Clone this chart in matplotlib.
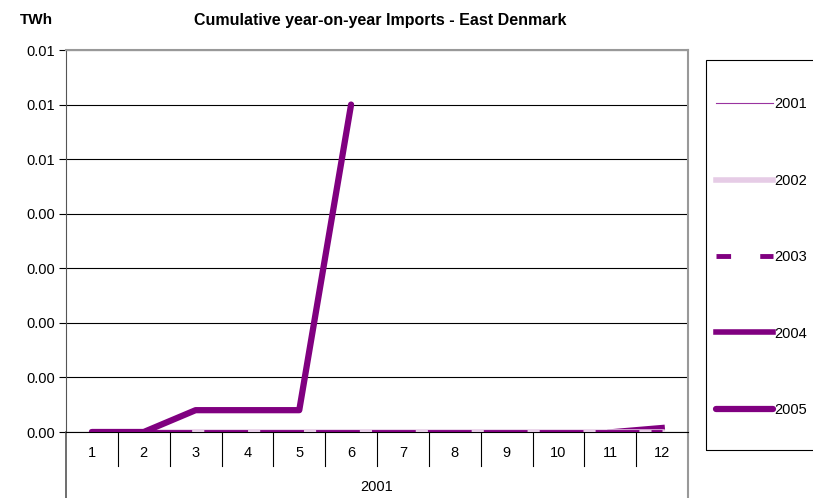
import matplotlib
matplotlib.use("Agg")
import matplotlib.pyplot as plt
import matplotlib.transforms as mtransforms
from matplotlib.lines import Line2D
from matplotlib.patches import Rectangle
import numpy as np

plt.rcParams['font.family'] = ['Liberation Sans', 'DejaVu Sans']

months = list(range(1, 13))
year_label = "2001"
y_ticks = [0.000, 0.001, 0.002, 0.003, 0.004, 0.005, 0.006, 0.007]

nan = np.nan
imp_2001 = [0, 0, 0, 0, 0, 0, 0, 0, 0, 0, 0, 0]
imp_2002 = [0, 0, 0, 0, 0, 0, 0, 0, 0, 0, 0, 0]
imp_2003 = [0, 0, 0, 0, 0, 0, 0, 0, 0, 0, 0, 0]
imp_2004 = [nan, nan, nan, nan, nan, nan, nan, nan, nan, nan, 0, 0.00008]
imp_2005 = [0, 0, 0.0004, 0.0004, 0.0004, 0.006, nan, nan, nan, nan, nan, nan]

purple = '#800080'
pink = '#E6CCE6'
fs = 10.5

fig = plt.figure(figsize=(8.13, 4.98), dpi=100)
ax = fig.add_axes([66/813, 1-432/498, (688-66)/813, (432-50)/498])

l1, = ax.plot(months, imp_2001, color='#9933A0', lw=0.8, zorder=3)
l4, = ax.plot(months, imp_2004, color=purple, lw=4, zorder=3.5)
l2, = ax.plot(months, imp_2002, color=pink, lw=4, zorder=4)
l3, = ax.plot(months, imp_2003, color=purple, lw=3.5, dashes=(9, 2.5), zorder=5)
l5, = ax.plot(months, imp_2005, color=purple, lw=4.5, solid_capstyle='round',
              solid_joinstyle='round', zorder=6)

ax.set_xlim(0.5, 12.5)
ax.set_ylim(0, 0.007)
ax.set_yticks(y_ticks)
ax.set_yticklabels(['{:.2f}'.format(v + 1e-12) for v in y_ticks])
ax.yaxis.grid(True, color='black', lw=0.8)
ax.set_axisbelow(True)
ax.set_xticks(months)
ax.set_xticklabels([str(m) for m in months])
ax.tick_params(axis='x', length=0, pad=10, labelsize=fs)
ax.tick_params(axis='y', length=5, width=0.8, labelsize=fs, pad=3)

for side in ['top', 'right']:
    ax.spines[side].set_color('#999999')
    ax.spines[side].set_linewidth(1.5)
ax.spines['left'].set_color('#555555')
ax.spines['bottom'].set_color('black')
ax.spines['bottom'].set_linewidth(0.8)

# category boxes below the axis
trans = mtransforms.blended_transform_factory(ax.transData, ax.transAxes)
box_h = 34 / 382
for b in np.arange(1.5, 12.5, 1):
    ax.add_line(Line2D([b, b], [0, -box_h], transform=trans, color='black',
                       lw=0.8, clip_on=False))
full_h = 66 / 382
ax.add_line(Line2D([0.5, 0.5], [0, -full_h], transform=trans, color='#555555',
                   lw=1.2, clip_on=False))
ax.add_line(Line2D([12.5, 12.5], [0, -full_h], transform=trans, color='#999999',
                   lw=1.5, clip_on=False))
ax.text(6.5, -55/382, year_label, transform=trans, ha='center', va='center',
        fontsize=fs)

fig.text(380/813, 1-20/498, 'Cumulative year-on-year Imports - East Denmark',
         ha='center', va='center', fontsize=11.5, fontweight='bold')
fig.text(36/813, 1-20/498, 'TWh', ha='center', va='center', fontsize=11,
         fontweight='bold')

# legend
fig.patches.append(Rectangle((706/813, 1-450/498), 120/813, 390/498,
                             transform=fig.transFigure, fill=False,
                             edgecolor='black', lw=0.8))
leg = fig.legend([l1, l2, l3, l4, l5], ['2001', '2002', '2003', '2004', '2005'],
                 loc='upper left', bbox_to_anchor=(709/813, 1-90/498),
                 frameon=False, handlelength=3.9, handletextpad=0.1,
                 labelspacing=4.28, fontsize=fs, borderpad=0)
leg.get_lines()[2].set_dashes((3, 6))

fig.savefig('out.png', dpi=100)
